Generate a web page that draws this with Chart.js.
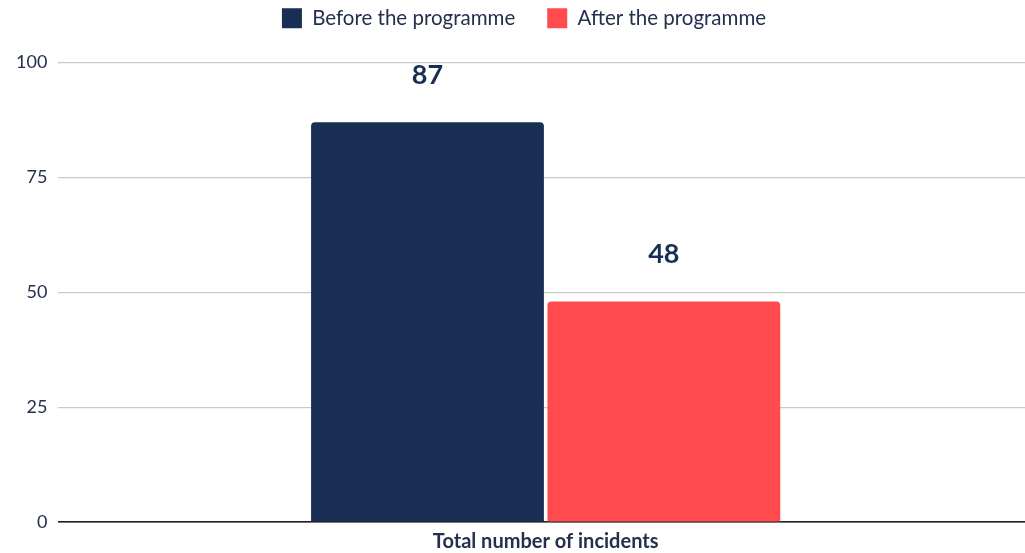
<!DOCTYPE html>
<html>
<head>
<meta charset="utf-8">
<script src="https://cdn.jsdelivr.net/npm/chart.js@4/dist/chart.umd.min.js"></script>
<style>
  html, body { margin: 0; padding: 0; background: #fff; }
  #wrap { width: 1025px; height: 553px; }
</style>
</head>
<body>
<div id="wrap"><canvas id="stage"></canvas></div>
<script>
const categories = ['Total number of incidents'];
const beforeValues = [87];
const afterValues = [48];
const seriesNames = ['Before the programme', 'After the programme'];
const yTicks = [0, 25, 50, 75, 100];

const navy = '#182e53';
const red = '#ff4a4e';
const textColor = '#24304d';

// numbers drawn above each bar
const valueLabels = {
    id: 'valueLabels',
    afterDatasetsDraw(chart) {
        const ctx = chart.ctx;
        ctx.save();
        ctx.font = 'bold 27px Lato';
        ctx.fillStyle = navy;
        ctx.textAlign = 'center';
        ctx.textBaseline = 'middle';
        chart.data.datasets.forEach((ds, i) => {
            chart.getDatasetMeta(i).data.forEach((bar, j) => {
                ctx.fillText(ds.data[j], bar.x, bar.y - 47);
            });
        });
        ctx.restore();
    }
};

// extra room between legend and plot
const legendGap = {
    id: 'legendGap',
    beforeInit(chart) {
        const fit = chart.legend.fit;
        chart.legend.fit = function () {
            fit.bind(chart.legend)();
            this.height += 24;
        };
    }
};

// plot area runs a little past the right edge of the canvas
const bleedRight = {
    id: 'bleedRight',
    afterLayout(chart) {
        const extra = 1033 - chart.chartArea.right;
        if (extra <= 0) return;
        const x = chart.scales.x;
        x.right += extra;
        x.width += extra;
        x.configure();
        chart.chartArea.right += extra;
        chart.chartArea.width += extra;
    }
};

new Chart(document.getElementById('stage'), {
    type: 'bar',
    data: {
        labels: categories,
        datasets: [
            {
                label: seriesNames[0],
                data: beforeValues,
                backgroundColor: navy,
                borderRadius: { topLeft: 4, topRight: 4 },
                borderSkipped: 'bottom',
                barPercentage: 0.985,
                categoryPercentage: 0.485
            },
            {
                label: seriesNames[1],
                data: afterValues,
                backgroundColor: red,
                borderRadius: { topLeft: 4, topRight: 4 },
                borderSkipped: 'bottom',
                barPercentage: 0.985,
                categoryPercentage: 0.485
            }
        ]
    },
    options: {
        responsive: true,
        maintainAspectRatio: false,
        animation: false,
        layout: { padding: { top: -24, right: -18, bottom: -9, left: 5 } },
        plugins: {
            legend: {
                position: 'top',
                labels: {
                    boxWidth: 20,
                    boxHeight: 20,
                    padding: 32,
                    color: textColor,
                    font: { family: 'Lato', size: 20.5 }
                }
            },
            tooltip: { enabled: false }
        },
        scales: {
            x: {
                grid: { display: false, drawTicks: false },
                border: { color: '#222', width: 1.5 },
                ticks: {
                    color: textColor,
                    padding: 8,
                    font: { family: 'Lato', size: 20, weight: 'bold' }
                }
            },
            y: {
                min: 0,
                max: 100,
                afterBuildTicks(axis) {
                    axis.ticks = yTicks.map(v => ({ value: v }));
                },
                border: { display: false },
                grid: {
                    color: ctx => ctx.tick && ctx.tick.value === 0 ? '#222' : '#c9c9c9',
                    lineWidth: 1.2,
                    drawTicks: false
                },
                ticks: {
                    color: textColor,
                    padding: 11,
                    font: { family: 'Lato', size: 18 }
                }
            }
        }
    },
    plugins: [valueLabels, legendGap, bleedRight]
});
</script>
</body>
</html>
